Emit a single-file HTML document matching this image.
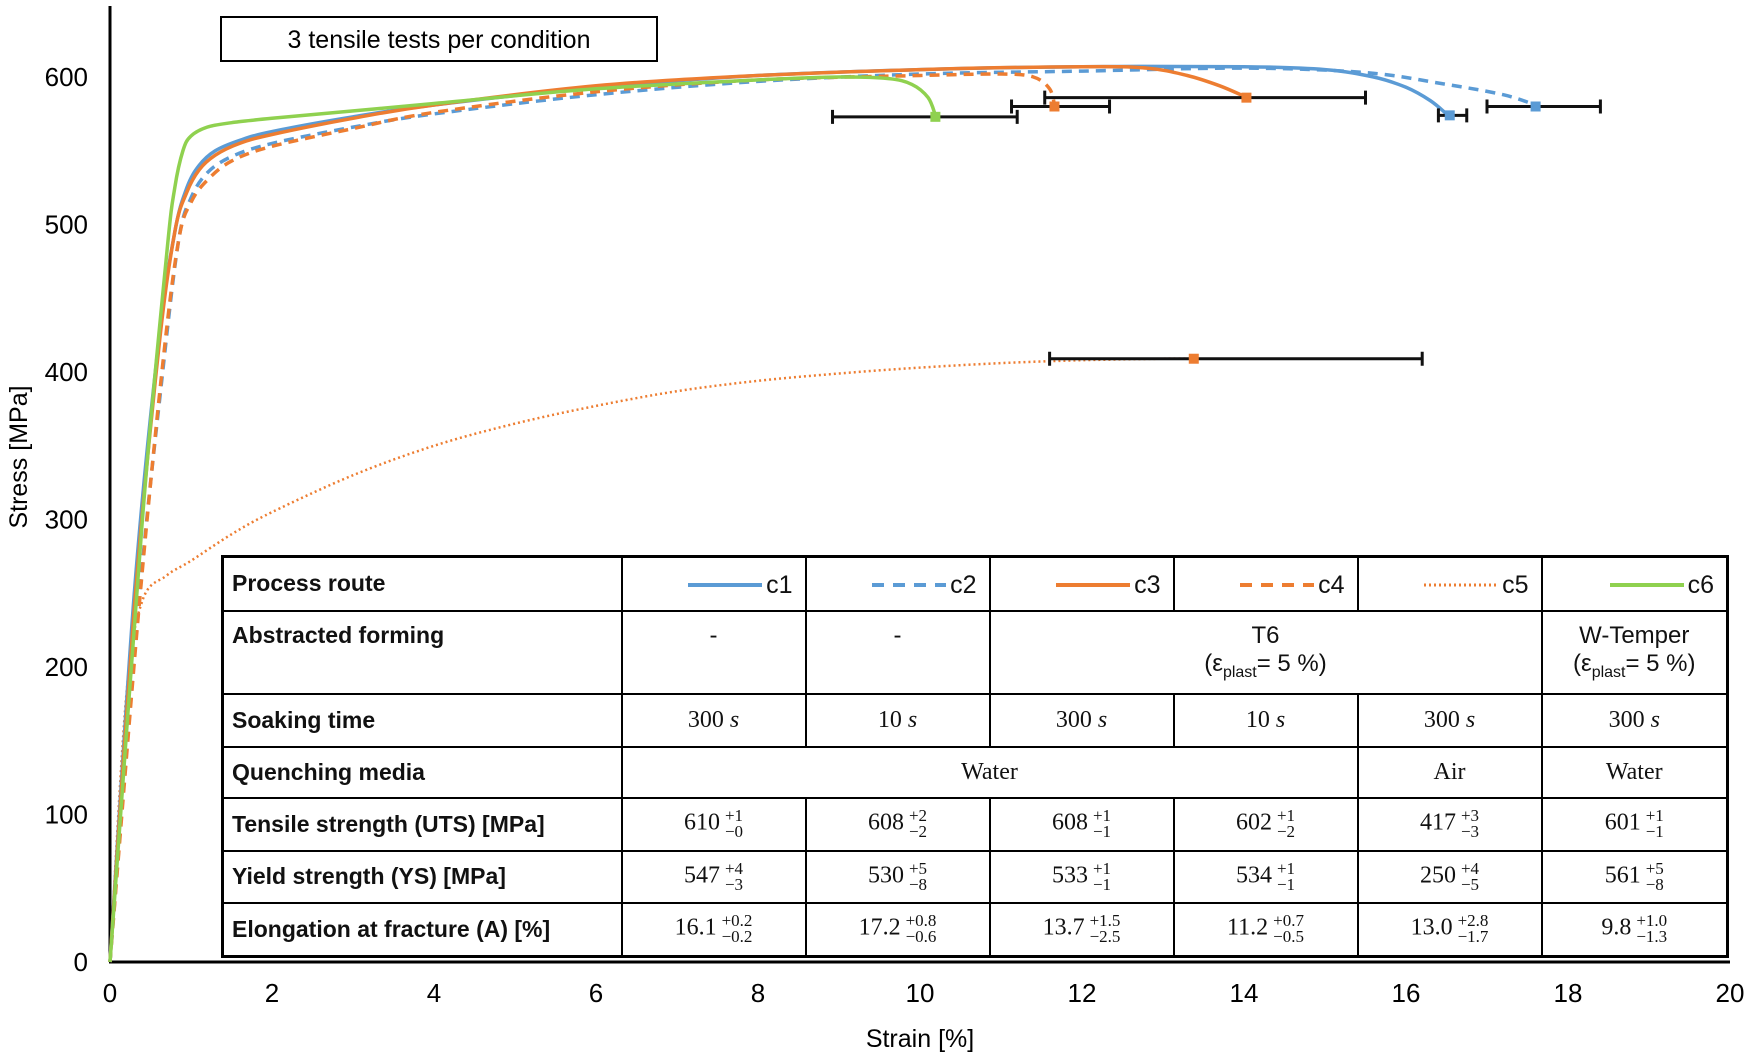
<!DOCTYPE html>
<html><head><meta charset="utf-8"><style>
html,body{margin:0;padding:0;background:#fff;}
#root{position:relative;width:1749px;height:1056px;overflow:hidden;font-family:"Liberation Sans",sans-serif;}
svg{position:absolute;left:0;top:0;}
#tbl{position:absolute;left:221px;top:555px;border-collapse:collapse;table-layout:fixed;border:3px solid #000;background:#fff;}
#tbl td{border:2px solid #000;padding:0;text-align:center;font-family:"Liberation Serif",serif;font-size:24px;color:#111;}
#tbl td.lab{text-align:left;font-family:"Liberation Sans",sans-serif;font-weight:bold;font-size:23px;padding-left:8px;}
.pm{display:inline-block;vertical-align:middle;font-size:17px;line-height:16px;text-align:left;margin-left:5px;}
.leg{display:inline-flex;align-items:center;justify-content:flex-end;width:100%;font-family:"Liberation Sans",sans-serif;font-size:25px;padding-right:12px;box-sizing:border-box;}
.leg svg{margin-right:4px;}
.top{vertical-align:top;padding-top:10px!important;}
</style></head><body>
<div id="root">
<svg id="chart" width="1749" height="1056"></svg>
<table id="tbl">
<colgroup><col style="width:399px"><col style="width:184px"><col style="width:184px"><col style="width:184px"><col style="width:184px"><col style="width:184px"><col style="width:186px"></colgroup>
<tr style="height:54px"><td class="lab">Process route</td>
<td><span class="leg"><svg style="position:static" width="74" height="6"><line x1="0" y1="3" x2="74" y2="3" stroke="#5b9bd5" stroke-width="4"/></svg>c1</span></td>
<td><span class="leg"><svg style="position:static" width="74" height="6"><line x1="0" y1="3" x2="74" y2="3" stroke="#5b9bd5" stroke-width="4" stroke-dasharray="12,9"/></svg>c2</span></td>
<td><span class="leg"><svg style="position:static" width="74" height="6"><line x1="0" y1="3" x2="74" y2="3" stroke="#ed7d31" stroke-width="4"/></svg>c3</span></td>
<td><span class="leg"><svg style="position:static" width="74" height="6"><line x1="0" y1="3" x2="74" y2="3" stroke="#ed7d31" stroke-width="4" stroke-dasharray="12,9"/></svg>c4</span></td>
<td><span class="leg"><svg style="position:static" width="74" height="6"><line x1="0" y1="3" x2="74" y2="3" stroke="#ed7d31" stroke-width="3" stroke-dasharray="2,3"/></svg>c5</span></td>
<td><span class="leg"><svg style="position:static" width="74" height="6"><line x1="0" y1="3" x2="74" y2="3" stroke="#8fd14f" stroke-width="4"/></svg>c6</span></td></tr>
<tr style="height:83px"><td class="lab top">Abstracted forming</td><td class="top" style="font-family:'Liberation Sans',sans-serif">-</td><td class="top" style="font-family:'Liberation Sans',sans-serif">-</td>
<td colspan="3" class="top" style="font-family:'Liberation Sans',sans-serif">T6<br>(ε<sub style="font-size:16px">plast</sub>= 5 %)</td>
<td class="top" style="font-family:'Liberation Sans',sans-serif">W-Temper<br>(ε<sub style="font-size:16px">plast</sub>= 5 %)</td></tr>
<tr style="height:53px"><td class="lab">Soaking time</td><td>300 <i>s</i></td><td>10 <i>s</i></td><td>300 <i>s</i></td><td>10 <i>s</i></td><td>300 <i>s</i></td><td>300 <i>s</i></td></tr>
<tr style="height:51px"><td class="lab">Quenching media</td><td colspan="4">Water</td><td>Air</td><td>Water</td></tr>
<tr style="height:53px"><td class="lab">Tensile strength (UTS) [MPa]</td>
<td>610<span class="pm">+1<br>−0</span></td><td>608<span class="pm">+2<br>−2</span></td><td>608<span class="pm">+1<br>−1</span></td><td>602<span class="pm">+1<br>−2</span></td><td>417<span class="pm">+3<br>−3</span></td><td>601<span class="pm">+1<br>−1</span></td></tr>
<tr style="height:52px"><td class="lab">Yield strength (YS) [MPa]</td>
<td>547<span class="pm">+4<br>−3</span></td><td>530<span class="pm">+5<br>−8</span></td><td>533<span class="pm">+1<br>−1</span></td><td>534<span class="pm">+1<br>−1</span></td><td>250<span class="pm">+4<br>−5</span></td><td>561<span class="pm">+5<br>−8</span></td></tr>
<tr style="height:54px"><td class="lab">Elongation at fracture (A) [%]</td>
<td>16.1<span class="pm">+0.2<br>−0.2</span></td><td>17.2<span class="pm">+0.8<br>−0.6</span></td><td>13.7<span class="pm">+1.5<br>−2.5</span></td><td>11.2<span class="pm">+0.7<br>−0.5</span></td><td>13.0<span class="pm">+2.8<br>−1.7</span></td><td>9.8<span class="pm">+1.0<br>−1.3</span></td></tr>
</table>
</div>
<script>
const xTicks=[0,2,4,6,8,10,12,14,16,18,20];
const yTicks=[0,100,200,300,400,500,600];
const c1x=[0,0.3,0.6,0.8,0.95,1.1,1.3,1.6,2,3,4,6,8,10,12,14,15,15.6,16.0,16.3,16.5];
const c1y=[0,250,420,495,525,540,550,557,563,573,581,593,601,605,607,607,605,600,593,584,575];
const c2x=[0,0.35,0.65,0.85,1.0,1.2,1.5,2,3,4,6,8,10,12,14,15.5,16.5,17.2,17.6];
const c2y=[0,240,400,490,518,535,546,555,566,575,588,597,602,604,606,603,595,588,581];
const c3x=[0,0.3,0.6,0.8,0.95,1.1,1.3,1.6,2,3,4,6,8,10,12,12.8,13.3,13.7,14];
const c3y=[0,240,415,495,522,537,547,555,561,572,581,594,601,605,607,606,601,594,587];
const c4x=[0,0.35,0.65,0.85,1.0,1.2,1.5,2,3,4,6,8,10,11,11.4,11.6,11.66];
const c4y=[0,235,405,490,515,530,543,553,565,576,590,598,601,602,600,592,581];
const c5x=[0,0.2,0.4,0.7,1,1.5,2,3,4,5,6,7,8,9,10,11,12,13,13.38];
const c5y=[0,180,245,262,272,290,305,330,350,365,377,387,394,399,403,406,408,409,409];
const c6x=[0,0.4,0.7,0.8,0.9,1.0,1.2,1.5,2,4,6,8,9,9.6,9.9,10.1,10.19];
const c6y=[0,300,480,525,550,560,566,569,572,582,592,598,600,599,595,586,574];
const markX=[16.54,17.6,14.03,11.66,13.38,10.19];
const markY=[574,580,586,580,409,573];
const errLo=[16.4,17.0,11.54,11.13,11.6,8.92];
const errHi=[16.75,18.4,15.5,12.34,16.2,11.2];
const X=v=>110+v*81, Y=v=>962-v*1.475;
const svg=document.getElementById('chart');const NS='http://www.w3.org/2000/svg';
function mk(t,a){const e=document.createElementNS(NS,t);for(const k in a)e.setAttribute(k,a[k]);svg.appendChild(e);return e;}
function smooth(xs,ys){const p=xs.map((v,i)=>[X(v),Y(ys[i])]);let d='M'+p[0][0]+','+p[0][1];
for(let i=0;i<p.length-1;i++){const p0=p[i-1]||p[i],p1=p[i],p2=p[i+1],p3=p[i+2]||p2;
const c1=[p1[0]+(p2[0]-p0[0])/6,p1[1]+(p2[1]-p0[1])/6],c2=[p2[0]-(p3[0]-p1[0])/6,p2[1]-(p3[1]-p1[1])/6];
d+=`C${c1[0].toFixed(1)},${c1[1].toFixed(1)} ${c2[0].toFixed(1)},${c2[1].toFixed(1)} ${p2[0].toFixed(1)},${p2[1].toFixed(1)}`;}return d;}
let e;
e=mk('line',{x1:110,y1:6,x2:110,y2:962,stroke:'#000','stroke-width':3});


e=mk('line',{x1:109,y1:962,x2:1730,y2:962,stroke:'#000','stroke-width':3});


xTicks.forEach(t=>{e=mk('text',{x:X(t),y:1002,'font-size':26,'text-anchor':'middle','font-family':'Liberation Sans, sans-serif'});e.textContent=t;

});
yTicks.forEach(t=>{e=mk('text',{x:88,y:Y(t)+9,'font-size':26,'text-anchor':'end','font-family':'Liberation Sans, sans-serif'});e.textContent=t;

});
e=mk('text',{x:920,y:1047,'font-size':25,'text-anchor':'middle','font-family':'Liberation Sans, sans-serif'});e.textContent='Strain [%]';


e=mk('text',{x:0,y:0,'font-size':25,'text-anchor':'middle','font-family':'Liberation Sans, sans-serif',transform:'translate(27,457) rotate(-90)'});e.textContent='Stress [MPa]';


e=mk('rect',{x:221,y:17,width:436,height:44,fill:'#fff',stroke:'#000','stroke-width':2});


e=mk('text',{x:439,y:48,'font-size':25,'text-anchor':'middle','font-family':'Liberation Sans, sans-serif'});e.textContent='3 tensile  tests per condition';


const series=[[c5x,c5y,'#ed7d31','2,3',2.5,'c5'],[c2x,c2y,'#5b9bd5','10,7',3.5,'c2'],[c4x,c4y,'#ed7d31','10,7',3.5,'c4'],[c1x,c1y,'#5b9bd5','',3.5,'c1'],[c3x,c3y,'#ed7d31','',3.5,'c3'],[c6x,c6y,'#8fd14f','',3.5,'c6']];
series.forEach(s=>{
e=mk('path',{d:smooth(s[0],s[1]),fill:'none',stroke:s[2],'stroke-width':s[4],'stroke-dasharray':s[3],'stroke-linejoin':'round'});

});
const mcol=['#5b9bd5','#5b9bd5','#ed7d31','#ed7d31','#ed7d31','#8fd14f'];
markX.forEach((m,i)=>{const y=Y(markY[i]);
e=mk('path',{d:`M${X(errLo[i])},${y}H${X(errHi[i])}M${X(errLo[i])},${y-7}v14M${X(errHi[i])},${y-7}v14`,stroke:'#111','stroke-width':3,fill:'none'});


e=mk('rect',{x:X(m)-5,y:y-5,width:10,height:10,fill:mcol[i]});

});
</script>
</body></html>
